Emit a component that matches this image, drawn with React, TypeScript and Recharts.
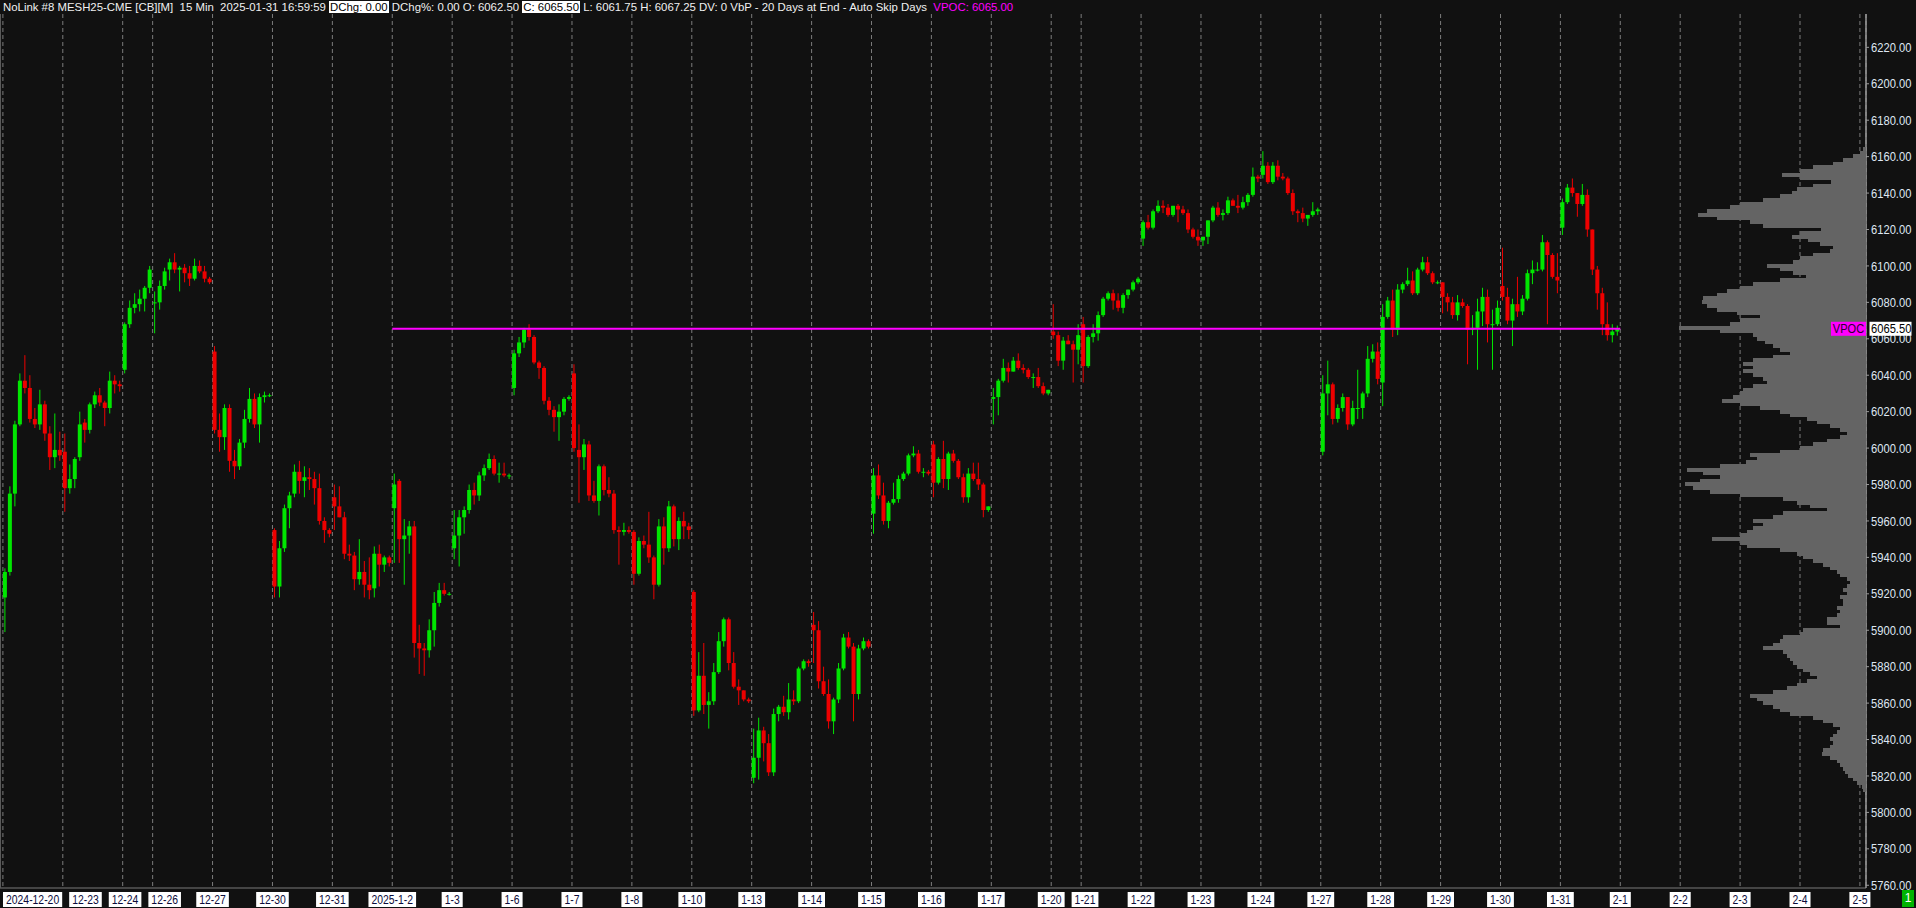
import React from "react";
import {
  ComposedChart, BarChart, Bar, XAxis, YAxis, CartesianGrid, ReferenceLine,
} from "recharts";

// 15 min MESH25 chart, candles grouped to ~2h buckets (12 per session)
// each entry: [open, high, low, close]
const dec20 = [
  [5918, 5934, 5899, 5932], [5932, 5979, 5930, 5975], [5975, 6015, 5968, 6013], [6013, 6041, 6012, 6037],
  [6037, 6051, 6030, 6033], [6033, 6040, 6014, 6016], [6016, 6022, 6011, 6013], [6013, 6032, 6010, 6024],
  [6024, 6026, 6004, 6008], [6008, 6012, 5988, 5995], [5995, 6019, 5989, 5999], [5999, 6009, 5993, 5996],
];
const dec23 = [
  [5998, 6008, 5965, 5978], [5978, 5991, 5975, 5983], [5983, 5995, 5978, 5994], [5995, 6020, 5993, 6013],
  [6014, 6016, 6003, 6010], [6010, 6025, 6008, 6024], [6024, 6031, 6022, 6029], [6029, 6033, 6023, 6025],
  [6025, 6026, 6012, 6022], [6022, 6042, 6019, 6037], [6037, 6040, 6030, 6035], [6035, 6037, 6031, 6034],
];
const dec24 = [
  [6043, 6069, 6041, 6068], [6068, 6081, 6066, 6077], [6077, 6085, 6074, 6079],
  [6079, 6087, 6075, 6082], [6082, 6089, 6075, 6088], [6088, 6100, 6085, 6098],
];
const dec26 = [
  [6080, 6086, 6063, 6080], [6080, 6092, 6076, 6089], [6089, 6099, 6087, 6097], [6098, 6104, 6092, 6102],
  [6102, 6107, 6096, 6098], [6098, 6100, 6086, 6099], [6099, 6101, 6091, 6096], [6096, 6100, 6089, 6093],
  [6093, 6104, 6092, 6100], [6100, 6103, 6096, 6097], [6097, 6100, 6091, 6093], [6093, 6094, 6090, 6091],
];
const dec27 = [
  [6053, 6056, 6008, 6010], [6010, 6019, 5998, 6006], [6006, 6024, 5999, 6022], [6022, 6024, 5987, 5993],
  [5993, 5999, 5983, 5990], [5990, 6005, 5988, 6003], [6003, 6021, 6000, 6016], [6016, 6033, 6014, 6027],
  [6027, 6030, 6011, 6013], [6013, 6030, 6003, 6028], [6028, 6031, 6025, 6029], [6029, 6030, 6028, 6029],
];
const dec30 = [
  [5955, 5956, 5918, 5924], [5924, 5949, 5918, 5945], [5945, 5969, 5943, 5967], [5967, 5976, 5956, 5974],
  [5975, 5991, 5973, 5987], [5987, 5993, 5975, 5982], [5982, 5990, 5973, 5984], [5984, 5989, 5977, 5983],
  [5983, 5987, 5969, 5978], [5978, 5986, 5958, 5960], [5960, 5962, 5948, 5955], [5955, 5956, 5951, 5953],
];
const dec31 = [
  [5973, 5980, 5955, 5968], [5968, 5979, 5962, 5962], [5962, 5965, 5939, 5942], [5942, 5947, 5938, 5941],
  [5941, 5943, 5922, 5928], [5928, 5950, 5925, 5932], [5932, 5938, 5918, 5925], [5925, 5940, 5917, 5922],
  [5923, 5946, 5918, 5942], [5942, 5947, 5924, 5936], [5936, 5941, 5932, 5940], [5940, 5941, 5935, 5937],
];
const jan2 = [
  [5967, 5986, 5937, 5980], [5982, 5983, 5937, 5950], [5950, 5961, 5925, 5952], [5952, 5960, 5942, 5957],
  [5957, 5960, 5885, 5893], [5893, 5903, 5876, 5890], [5890, 5893, 5875, 5889], [5889, 5906, 5885, 5900],
  [5900, 5921, 5891, 5915], [5915, 5926, 5913, 5922], [5922, 5926, 5919, 5920], [5920, 5921, 5919, 5920],
];
const jan3 = [
  [5945, 5966, 5939, 5952], [5952, 5966, 5935, 5962], [5962, 5968, 5953, 5966], [5966, 5980, 5964, 5977],
  [5977, 5981, 5969, 5974], [5974, 5987, 5971, 5985], [5985, 5991, 5982, 5989], [5989, 5997, 5988, 5994],
  [5994, 5996, 5985, 5986], [5986, 5992, 5981, 5986], [5986, 5992, 5984, 5985], [5985, 5986, 5983, 5985],
];
const jan6 = [
  [6033, 6054, 6029, 6052], [6052, 6061, 6050, 6058], [6058, 6066, 6055, 6065], [6065, 6068, 6059, 6061],
  [6061, 6062, 6046, 6047], [6047, 6048, 6038, 6044], [6044, 6045, 6024, 6026], [6026, 6028, 6018, 6021],
  [6021, 6023, 6009, 6017], [6017, 6024, 6004, 6020], [6020, 6028, 6018, 6027], [6027, 6029, 6026, 6028],
];
const jan7 = [
  [6041, 6046, 5998, 6000], [5999, 6013, 5970, 5995], [5995, 6005, 5988, 6002], [6002, 6004, 5971, 5974],
  [5974, 5982, 5970, 5971], [5971, 5991, 5963, 5990], [5990, 5991, 5974, 5977], [5977, 5984, 5973, 5975],
  [5975, 5977, 5953, 5955], [5955, 5957, 5936, 5954], [5954, 5959, 5952, 5955], [5955, 5957, 5953, 5954],
];
const jan8 = [
  [5954, 5955, 5925, 5931], [5931, 5951, 5930, 5949], [5949, 5952, 5945, 5947], [5947, 5965, 5937, 5940],
  [5940, 5941, 5917, 5925], [5925, 5961, 5924, 5957], [5957, 5962, 5936, 5945], [5945, 5971, 5943, 5968],
  [5968, 5969, 5946, 5950], [5950, 5962, 5944, 5960], [5960, 5965, 5950, 5957], [5957, 5959, 5950, 5955],
];
const jan10 = [
  [5921, 5922, 5853, 5856], [5856, 5888, 5855, 5875], [5875, 5893, 5854, 5859], [5859, 5866, 5846, 5861],
  [5861, 5882, 5859, 5877], [5877, 5899, 5876, 5894], [5894, 5907, 5891, 5906], [5906, 5907, 5878, 5882],
  [5882, 5888, 5868, 5869], [5869, 5873, 5859, 5867], [5867, 5867, 5861, 5862], [5862, 5863, 5860, 5861],
];
const jan13 = [
  [5819, 5846, 5816, 5830], [5830, 5852, 5818, 5845], [5845, 5847, 5828, 5838], [5838, 5843, 5820, 5822],
  [5822, 5857, 5820, 5854], [5854, 5859, 5850, 5858], [5858, 5864, 5853, 5855], [5855, 5871, 5851, 5862],
  [5862, 5867, 5859, 5861], [5861, 5880, 5860, 5879], [5879, 5884, 5878, 5883], [5883, 5884, 5880, 5882],
];
const jan14 = [
  [5903, 5910, 5882, 5900], [5900, 5905, 5868, 5872], [5872, 5880, 5864, 5865], [5865, 5873, 5846, 5850],
  [5850, 5863, 5843, 5862], [5862, 5882, 5860, 5879], [5879, 5898, 5878, 5896], [5896, 5899, 5890, 5891],
  [5891, 5893, 5850, 5865], [5865, 5892, 5862, 5890], [5890, 5896, 5889, 5894], [5894, 5895, 5890, 5891],
];
const jan15 = [
  [5964, 5989, 5953, 5985], [5985, 5991, 5972, 5974], [5974, 5981, 5958, 5960], [5960, 5971, 5956, 5970],
  [5970, 5981, 5969, 5972], [5972, 5985, 5970, 5983], [5983, 5987, 5982, 5986], [5986, 5997, 5985, 5996],
  [5996, 6001, 5995, 5997], [5997, 5999, 5986, 5987], [5987, 5989, 5984, 5987], [5987, 5988, 5985, 5986],
];
const jan16 = [
  [6002, 6004, 5973, 5981], [5981, 5995, 5980, 5994], [5994, 6004, 5978, 5983], [5983, 5998, 5977, 5997],
  [5997, 5999, 5992, 5993], [5993, 5994, 5983, 5984], [5984, 5986, 5970, 5973], [5973, 5989, 5970, 5986],
  [5986, 5992, 5982, 5983], [5983, 5992, 5977, 5980], [5980, 5981, 5962, 5966], [5966, 5968, 5965, 5968],
];
const jan17 = [
  [6027, 6033, 6013, 6028], [6028, 6038, 6018, 6037], [6037, 6049, 6036, 6044], [6044, 6047, 6036, 6042],
  [6042, 6050, 6042, 6048], [6048, 6052, 6043, 6044], [6044, 6046, 6041, 6043], [6043, 6044, 6038, 6039],
  [6039, 6041, 6033, 6039], [6039, 6044, 6033, 6034], [6034, 6036, 6029, 6030], [6030, 6032, 6029, 6032],
];
const jan20 = [
  [6064, 6079, 6060, 6062], [6062, 6064, 6045, 6048], [6048, 6061, 6043, 6059],
  [6059, 6062, 6057, 6057], [6057, 6059, 6036, 6054], [6054, 6068, 6046, 6062],
];
const jan21 = [
  [6068, 6072, 6036, 6045], [6045, 6062, 6044, 6061], [6061, 6068, 6058, 6063], [6063, 6075, 6059, 6073],
  [6073, 6083, 6072, 6082], [6082, 6086, 6081, 6085], [6085, 6087, 6076, 6081], [6081, 6085, 6075, 6077],
  [6077, 6085, 6074, 6084], [6084, 6087, 6082, 6087], [6087, 6092, 6086, 6091], [6091, 6094, 6090, 6093],
];
const jan22 = [
  [6115, 6125, 6111, 6124], [6124, 6128, 6120, 6121], [6121, 6131, 6120, 6130], [6130, 6136, 6129, 6133],
  [6133, 6136, 6129, 6132], [6132, 6134, 6127, 6128], [6128, 6133, 6127, 6133], [6133, 6134, 6124, 6131],
  [6131, 6133, 6128, 6129], [6129, 6131, 6118, 6120], [6120, 6121, 6115, 6116], [6116, 6120, 6111, 6114],
];
const jan23 = [
  [6114, 6116, 6111, 6116], [6116, 6125, 6112, 6125], [6125, 6133, 6124, 6132], [6132, 6135, 6127, 6128],
  [6128, 6131, 6125, 6129], [6129, 6138, 6128, 6136], [6136, 6137, 6133, 6133], [6133, 6139, 6129, 6132],
  [6132, 6138, 6131, 6135], [6135, 6140, 6133, 6139], [6139, 6154, 6138, 6149], [6149, 6150, 6146, 6148],
];
const jan24 = [
  [6150, 6163, 6148, 6155], [6155, 6157, 6145, 6146], [6146, 6157, 6145, 6155], [6155, 6158, 6147, 6149],
  [6149, 6151, 6147, 6148], [6148, 6149, 6139, 6140], [6140, 6142, 6128, 6130], [6130, 6131, 6124, 6129],
  [6129, 6132, 6124, 6126], [6126, 6128, 6122, 6128], [6128, 6135, 6127, 6130], [6130, 6132, 6128, 6131],
];
const jan27 = [
  [5998, 6040, 5996, 6030], [6030, 6048, 6018, 6035], [6035, 6036, 6013, 6016], [6016, 6024, 6014, 6022],
  [6022, 6030, 6020, 6028], [6028, 6028, 6010, 6013], [6013, 6026, 6012, 6022], [6022, 6043, 6016, 6022],
  [6022, 6031, 6016, 6030], [6030, 6056, 6028, 6049], [6049, 6057, 6047, 6053], [6053, 6058, 6035, 6038],
];
const jan28 = [
  [6036, 6079, 6023, 6072], [6072, 6083, 6071, 6081], [6081, 6087, 6061, 6065], [6065, 6090, 6062, 6087],
  [6087, 6091, 6085, 6090], [6090, 6099, 6089, 6092], [6092, 6097, 6084, 6085], [6085, 6099, 6084, 6098],
  [6098, 6105, 6097, 6102], [6102, 6105, 6095, 6096], [6096, 6097, 6090, 6091], [6091, 6092, 6090, 6091],
];
const jan29 = [
  [6091, 6091, 6074, 6083], [6083, 6085, 6075, 6080], [6080, 6083, 6071, 6073], [6073, 6084, 6070, 6080],
  [6080, 6082, 6077, 6078], [6078, 6079, 6046, 6065], [6065, 6073, 6062, 6066], [6066, 6082, 6043, 6075],
  [6075, 6088, 6067, 6083], [6083, 6087, 6058, 6068], [6068, 6076, 6043, 6068], [6068, 6081, 6067, 6077],
];
const jan30 = [
  [6089, 6110, 6081, 6083], [6083, 6088, 6068, 6070], [6070, 6082, 6056, 6079], [6079, 6094, 6072, 6075],
  [6075, 6084, 6073, 6082], [6082, 6098, 6081, 6096], [6096, 6103, 6090, 6098], [6098, 6102, 6097, 6098],
  [6098, 6117, 6097, 6113], [6113, 6114, 6068, 6106], [6106, 6107, 6093, 6094], [6094, 6107, 6085, 6092],
];
const jan31 = [
  [6121, 6137, 6117, 6135], [6135, 6145, 6134, 6143], [6143, 6148, 6138, 6140], [6140, 6140, 6127, 6134],
  [6134, 6145, 6133, 6139], [6139, 6142, 6116, 6120], [6120, 6120, 6095, 6098], [6098, 6100, 6076, 6085],
  [6085, 6088, 6062, 6068], [6068, 6080, 6059, 6062], [6062, 6068, 6058, 6064], [6064, 6067.25, 6061.75, 6065.5],
];

const sessionLabels = [
  "2024-12-20", "12-23", "12-24", "12-26", "12-27", "12-30", "12-31", "2025-1-2", "1-3", "1-6",
  "1-7", "1-8", "1-10", "1-13", "1-14", "1-15", "1-16", "1-17", "1-20", "1-21",
  "1-22", "1-23", "1-24", "1-27", "1-28", "1-29", "1-30", "1-31",
];
const sessionCandles = [
  dec20, dec23, dec24, dec26, dec27, dec30, dec31, jan2, jan3, jan6,
  jan7, jan8, jan10, jan13, jan14, jan15, jan16, jan17, jan20, jan21,
  jan22, jan23, jan24, jan27, jan28, jan29, jan30, jan31,
];
const futureLabels = ["2-1", "2-2", "2-3", "2-4", "2-5"];

const priceTicks = [
  5760, 5780, 5800, 5820, 5840, 5860, 5880, 5900, 5920, 5940, 5960, 5980,
  6000, 6020, 6040, 6060, 6080, 6100, 6120, 6140, 6160, 6180, 6200, 6220,
];

// volume by price, 2 pt rows from the top of the profile down
const profileTop = 6164;
const profileStep = 2;
const profileVol = [
  3, 6, 13, 23, 33, 53, 66, 84, 66, 35,
  53, 69, 74, 86, 103, 126, 136, 159, 168, 149,
  116, 103, 45, 66, 74, 58, 46, 33, 36, 53,
  66, 73, 99, 86, 73, 60, 86, 113, 126, 139,
  149, 163, 164, 159, 149, 129, 106, 126, 136, 187,
  146, 113, 109, 101, 93, 86, 76, 93, 113, 123,
  113, 123, 113, 103, 99, 113, 123, 126, 133, 144,
  126, 106, 86, 76, 59, 49, 36, 26, 19, 26,
  39, 53, 66, 86, 116, 109, 120, 146, 179, 163,
  146, 166, 181, 173, 156, 126, 83, 69, 56, 39,
  83, 93, 113, 103, 113, 119, 126, 154, 126, 119,
  86, 69, 63, 53, 43, 36, 29, 26, 19, 16,
  19, 23, 19, 26, 23, 23, 29, 26, 29, 39,
  39, 26, 63, 66, 83, 86, 93, 103, 83, 79,
  76, 73, 69, 63, 56, 49, 59, 69, 79, 93,
  116, 109, 103, 93, 86, 76, 53, 43, 33, 26,
  29, 33, 36, 33, 36, 43, 44, 36, 29, 26,
  23, 21, 18, 13, 9, 4, 3,
];

const VPOC = 6065.5;
const VPOC_HEADER = 6065.0;

const W = 1916;
const H = 908;
const AXIS_W = 50;
const AXIS_H = 20;
const TOP = 14;
const SLOTS_PER_DAY = 12;
const PRICE_DOMAIN: [number, number] = [5758.5, 6238.3];
const SLOT_DOMAIN: [number, number] = [-0.58, 373.22];

const BG = "#111111";
const UP = "#00e600";
const DOWN = "#ee0000";
const GRAY = "#646464";
const MAGENTA = "#ff00ff";
const FONT = "'Liberation Sans', Arial, sans-serif";

// build rows
const candles: { x: number; o: number; h: number; l: number; c: number }[] = [];
const dayStarts: number[] = [];
let cursor = 0;
sessionCandles.forEach((day) => {
  dayStarts.push(cursor);
  day.forEach(([o, h, l, c], i) => candles.push({ x: cursor + i + 0.5, o, h, l, c }));
  cursor += day.length;
});
const dataEnd = cursor;
futureLabels.forEach(() => {
  dayStarts.push(cursor);
  cursor += SLOTS_PER_DAY;
});
const dayLabels = [...sessionLabels, ...futureLabels];
const vpocStart = dayStarts[sessionLabels.indexOf("2025-1-2")];

const profile = profileVol.map((vol, i) => ({ price: profileTop - i * profileStep, vol }));
const volMax = Math.max(...profileVol) * 10;

function Candle(props: any) {
  const { x, y, width, height, payload } = props;
  const { o, h, l, c } = payload;
  const top = Math.min(y, y + height);
  const span = Math.abs(height);
  const k = h > l ? span / (h - l) : 0;
  const bTop = top + (h - Math.max(o, c)) * k;
  const bBot = top + (h - Math.min(o, c)) * k;
  const color = c >= o ? UP : DOWN;
  const cx = x + width / 2;
  return (
    <g>
      <line x1={cx} x2={cx} y1={top} y2={top + span} stroke={color} strokeWidth={1} />
      <rect x={x} y={bTop} width={width} height={Math.max(bBot - bTop, 1)} fill={color} />
    </g>
  );
}

// rows sit 3.6px apart, so each one is padded to close the seams
function ProfileBar(props: any) {
  const { x, y, width, height } = props;
  return (
    <rect
      x={Math.min(x, x + width)} y={y - 0.4} width={Math.abs(width)} height={height + 0.8}
      fill={GRAY} shapeRendering="crispEdges"
    />
  );
}

const charW = (ch: string) => (ch === "-" ? 0.333 : 0.556);
const labelWidth = (s: string) => [...s].reduce((w, ch) => w + charW(ch), 0) * 13 * 0.8;

let prevRight = -Infinity;
function renderDayTick(props: any) {
  const { x, y, payload } = props;
  const idx = dayStarts.indexOf(payload.value);
  if (idx <= 0) prevRight = -Infinity;
  const text = dayLabels[idx] ?? "";
  const w = labelWidth(text) + 6;
  const left = Math.max(x - w / 2, prevRight + 7, 3);
  prevRight = left + w;
  return (
    <g key={`d${idx}`}>
      <rect x={left} y={y + 4} width={w} height={15} fill="#ffffff" />
      <g transform={`translate(${left + w / 2},${y + 16}) scale(0.8,1)`}>
        <text textAnchor="middle" fontSize={13} fontFamily={FONT} fill="#0b0b3a">{text}</text>
      </g>
    </g>
  );
}

function renderPriceTick(props: any) {
  const { x, y, payload } = props;
  return (
    <g key={`p${payload.value}`}>
      <line x1={x} x2={x + 3} y1={y} y2={y} stroke="#9a9a9a" />
      <g transform={`translate(${x + 5},${y + 4.6}) scale(0.86,1)`}>
        <text fontSize={13} fontFamily={FONT} fill="#dfe7f2">{Number(payload.value).toFixed(2)}</text>
      </g>
    </g>
  );
}

function VpocTag(props: any) {
  const vb = props.viewBox || {};
  const right = (vb.x ?? 0) + (vb.width ?? 0);
  const cy = vb.y ?? 0;
  return (
    <g>
      <rect x={right - 35} y={cy - 7} width={35} height={14} fill={MAGENTA} />
      <g transform={`translate(${right - 17.5},${cy + 4.6}) scale(0.85,1)`}>
        <text textAnchor="middle" fontSize={13} fontFamily={FONT} fill="#2a0030">VPOC</text>
      </g>
      <rect x={right + 3.5} y={cy - 7} width={42} height={14} fill="#ffffff" />
      <g transform={`translate(${right + 5},${cy + 4.6}) scale(0.86,1)`}>
        <text fontSize={13} fontFamily={FONT} fill="#000000">{VPOC.toFixed(2)}</text>
      </g>
    </g>
  );
}

const boxStyle: React.CSSProperties = { background: "#ffffff", color: "#000000", padding: "0 1px" };

export default function App() {
  return (
    <div style={{ position: "relative", width: W, height: H, background: BG, overflow: "hidden" }}>
      <style>{`body{margin:0;background:${BG};}`}</style>

      <div style={{ position: "absolute", left: 0, top: 0 }}>
        <ComposedChart width={W} height={H} data={candles} margin={{ top: TOP, right: 0, bottom: 0, left: 0 }}>
          <CartesianGrid horizontal={false} stroke="#7c7c7c" strokeDasharray="4 3" />
          <XAxis
            dataKey="x" type="number" domain={SLOT_DOMAIN} allowDataOverflow
            ticks={dayStarts} interval={0} tick={renderDayTick}
            tickLine={false} tickSize={0} tickMargin={0} height={AXIS_H}
            axisLine={{ stroke: "#7a7a7a" }}
          />
          <YAxis
            orientation="right" type="number" domain={PRICE_DOMAIN} allowDataOverflow
            ticks={priceTicks} interval={0} tick={renderPriceTick}
            tickLine={false} tickSize={0} tickMargin={0} width={AXIS_W}
            axisLine={{ stroke: "#9a9a9a", strokeWidth: 1.5 }}
          />
          <Bar
            dataKey={(d: any) => [d.l, d.h]} barSize={4}
            shape={(p: any) => <Candle {...p} />} isAnimationActive={false}
          />
          <ReferenceLine
            segment={[{ x: vpocStart, y: VPOC }, { x: dataEnd, y: VPOC }]}
            stroke={MAGENTA} strokeWidth={2}
          />
        </ComposedChart>
      </div>

      <div style={{ position: "absolute", left: 0, top: 0 }}>
        <BarChart
          layout="vertical" width={W} height={H} data={profile}
          margin={{ top: TOP, right: AXIS_W, bottom: AXIS_H, left: 0 }}
        >
          <XAxis type="number" domain={[0, volMax]} reversed hide allowDataOverflow />
          <YAxis type="number" dataKey="price" domain={PRICE_DOMAIN} reversed allowDataOverflow hide />
          <Bar dataKey="vol" barSize={4} fill={GRAY} shape={(p: any) => <ProfileBar {...p} />} isAnimationActive={false} />
          <ReferenceLine y={VPOC} stroke="none" label={<VpocTag />} />
        </BarChart>
      </div>

      <div style={{ position: "absolute", left: 0, top: TOP, width: 1, height: H - TOP - AXIS_H, background: "#5a5a5a" }} />

      <div
        style={{
          position: "absolute", left: 3, top: 0, height: 14, lineHeight: "14px",
          fontSize: 11.4, fontFamily: FONT, color: "#f0f0f0", whiteSpace: "pre",
        }}
      >
        {"NoLink #8 MESH25-CME [CB][M]  15 Min  2025-01-31 16:59:59 "}
        <span style={boxStyle}>DChg: 0.00</span>
        {" DChg%: 0.00 O: 6062.50 "}
        <span style={boxStyle}>C: 6065.50</span>
        {" L: 6061.75 H: 6067.25 DV: 0 VbP - 20 Days at End - Auto Skip Days  "}
        <span style={{ color: MAGENTA }}>{`VPOC: ${VPOC_HEADER.toFixed(2)}`}</span>
      </div>

      <div
        style={{
          position: "absolute", left: 1902, top: 890, width: 12, height: 17, background: "#00b400",
          color: "#ffffff", fontSize: 12, fontFamily: FONT, lineHeight: "17px", textAlign: "center",
        }}
      >
        1
      </div>
    </div>
  );
}
